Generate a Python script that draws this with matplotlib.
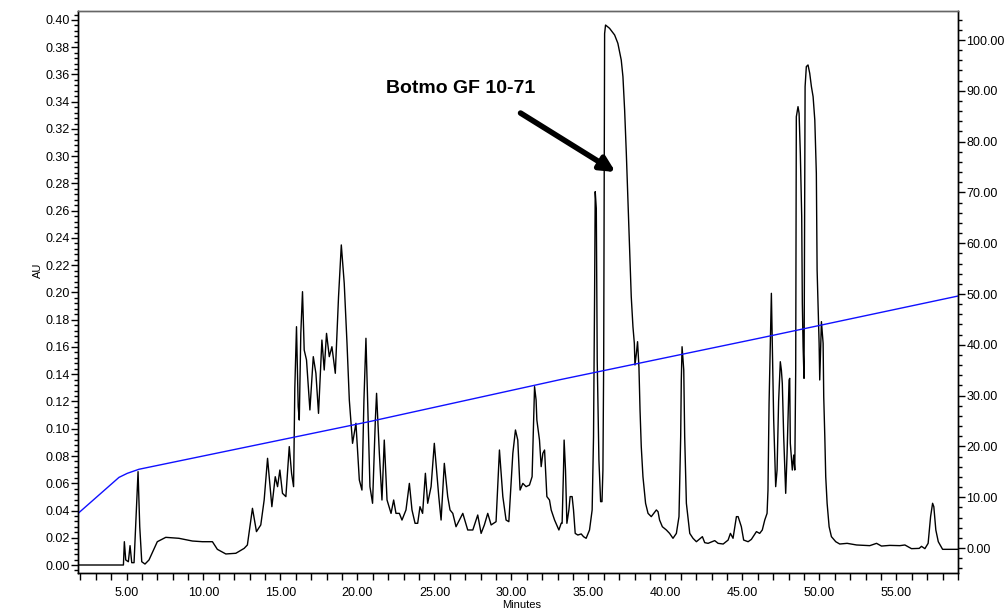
#! /usr/bin/env python3
import matplotlib
matplotlib.use('Agg')
import matplotlib.pyplot as plt
from matplotlib.ticker import MultipleLocator, FormatStrFormatter

plt.rcParams['font.family'] = ['Liberation Sans', 'DejaVu Sans']

# chromatogram trace (minutes, AU)
minutes = [
    1.85, 4.80, 4.86, 4.95, 5.12, 5.23, 5.34, 5.49, 5.60, 5.75, 5.86, 5.99,
    6.20, 6.46, 7.00, 7.55, 8.40, 9.28, 9.93, 10.58, 10.90, 11.45, 12.10,
    12.64, 12.85,
    13.18, 13.44, 13.72, 13.94, 14.16, 14.44, 14.66, 14.81, 14.96, 15.13,
    15.35, 15.57, 15.72, 15.85, 15.93, 16.04, 16.15, 16.22, 16.32, 16.43,
    16.54, 16.69, 16.91, 17.13, 17.30, 17.47, 17.69, 17.84, 17.99, 18.17,
    18.34, 18.56, 18.77, 18.95, 19.14, 19.32, 19.47, 19.68, 19.90, 20.12,
    20.29, 20.42, 20.55, 20.66, 20.81, 20.98, 21.16, 21.24, 21.42, 21.59,
    21.74, 21.92, 22.18, 22.35, 22.50, 22.72, 22.89, 23.15, 23.37, 23.54,
    23.74, 23.91, 24.06, 24.23, 24.41, 24.56, 24.78, 24.99, 25.28, 25.43,
    25.64, 25.86, 26.01, 26.19, 26.40, 26.84, 27.16, 27.49, 27.81, 28.03,
    28.24, 28.46, 28.68, 29.00, 29.22, 29.44, 29.65, 29.83, 30.09, 30.26,
    30.41, 30.56, 30.74, 30.95, 31.17, 31.34, 31.50, 31.60, 31.65, 31.82,
    31.93, 32.04, 32.15, 32.30, 32.47, 32.58, 32.80, 33.08, 33.23,
    33.29, 33.38, 33.42, 33.51, 33.60, 33.73, 33.81, 33.94, 34.03, 34.14,
    34.31, 34.53, 34.68, 34.85, 35.07, 35.24, 35.33, 35.40, 35.44, 35.51,
    35.57, 35.68, 35.79, 35.88, 35.94, 35.99, 36.05, 36.11, 36.37, 36.70,
    36.91, 37.13, 37.24, 37.35, 37.46, 37.57, 37.67, 37.78, 37.89, 37.98,
    38.02, 38.11, 38.19, 38.28, 38.35, 38.43, 38.54, 38.71, 38.87, 39.08,
    39.41, 39.52, 39.62, 39.80, 40.06, 40.27, 40.49, 40.71, 40.88, 40.99,
    41.03, 41.08, 41.19, 41.25, 41.36, 41.58, 41.79, 42.01, 42.40, 42.55,
    42.77, 43.20, 43.42, 43.75, 44.07, 44.22, 44.39, 44.61, 44.72, 44.93,
    45.08, 45.37, 45.58, 45.91, 46.12,
    46.29, 46.45, 46.60, 46.66, 46.73, 46.88, 46.94, 46.97, 47.03, 47.16,
    47.25, 47.35, 47.46, 47.53, 47.59, 47.68, 47.81, 47.90, 48.03, 48.07,
    48.11, 48.24, 48.33, 48.40, 48.46, 48.50, 48.61, 48.68, 48.76, 48.85,
    48.89, 48.94, 49.00, 49.07, 49.15, 49.26, 49.37, 49.48, 49.59, 49.70,
    49.80, 49.85, 49.91, 49.98, 50.02, 50.13, 50.24, 50.28, 50.35, 50.41,
    50.50, 50.63, 50.78, 51.06, 51.32, 51.80, 52.41, 53.27, 53.71, 54.03,
    54.57, 55.22, 55.55, 55.98, 56.48, 56.63, 56.85, 57.06, 57.22, 57.35,
    57.43, 57.56, 57.72, 58.00, 59.00,
]
au = [
    0.0, 0.0, 0.0171, 0.0037, 0.0024, 0.0142, 0.0017, 0.0017, 0.0306, 0.0685,
    0.0281, 0.0024, 0.0007, 0.0037, 0.0171, 0.0203, 0.0196, 0.0176, 0.0171,
    0.0171, 0.0115, 0.0081, 0.0086, 0.0122, 0.0147,
    0.0416, 0.0245, 0.0294, 0.0477, 0.0783, 0.0428, 0.0648, 0.0575, 0.0697,
    0.0526, 0.0502, 0.0869, 0.0673, 0.0575, 0.1297, 0.1749, 0.1162, 0.1064,
    0.1700, 0.2006, 0.1578, 0.1505, 0.1138, 0.1529, 0.1407, 0.1113, 0.1651,
    0.1431, 0.1700, 0.1529, 0.1602, 0.1407, 0.1969, 0.2349, 0.2067, 0.1627,
    0.1211, 0.0893, 0.1040, 0.0624, 0.0550, 0.1211, 0.1664, 0.1211, 0.0575,
    0.0453, 0.1064, 0.1260, 0.0820, 0.0477, 0.0917, 0.0477, 0.0379, 0.0477,
    0.0379, 0.0379, 0.0330, 0.0404, 0.0599, 0.0404, 0.0306, 0.0306, 0.0428,
    0.0379, 0.0673, 0.0453, 0.0575, 0.0893, 0.0502, 0.0330, 0.0746, 0.0502,
    0.0404, 0.0379, 0.0281, 0.0379, 0.0257, 0.0257, 0.0367, 0.0232, 0.0294,
    0.0379, 0.0294, 0.0318, 0.0844, 0.0502, 0.0330, 0.0318, 0.0820, 0.0991,
    0.0917, 0.0550, 0.0599, 0.0575, 0.0587, 0.0648, 0.1309, 0.1211, 0.1064,
    0.0917, 0.0722, 0.0820, 0.0844, 0.0502, 0.0477, 0.0404, 0.0330, 0.0257,
    0.0306,
    0.0306, 0.0697, 0.0917, 0.0697, 0.0306, 0.0404, 0.0502, 0.0502, 0.0404,
    0.0232, 0.0220, 0.0228, 0.0208, 0.0196, 0.0257, 0.0404, 0.0942, 0.2000,
    0.2740, 0.2618, 0.1500, 0.0771, 0.0465, 0.0465, 0.0697, 0.1500, 0.3900,
    0.3963, 0.3939, 0.3890, 0.3829, 0.3706, 0.3584, 0.3339, 0.3021, 0.2654,
    0.2312, 0.1969, 0.1749, 0.1627, 0.1468, 0.1550, 0.1639, 0.1450, 0.1138,
    0.0869, 0.0648, 0.0453, 0.0379, 0.0355, 0.0404, 0.0391, 0.0330, 0.0281,
    0.0257, 0.0232, 0.0196, 0.0232, 0.0355, 0.0942, 0.1358, 0.1602, 0.1431,
    0.0942, 0.0453, 0.0232, 0.0196, 0.0171, 0.0208, 0.0164, 0.0159, 0.0179,
    0.0159, 0.0154, 0.0183, 0.0232, 0.0196, 0.0355, 0.0355, 0.0281, 0.0183,
    0.0171, 0.0188, 0.0245, 0.0232,
    0.0257, 0.0330, 0.0379, 0.0550, 0.1187, 0.1994, 0.1627, 0.1400, 0.1064,
    0.0575, 0.0697, 0.1200, 0.1492, 0.1430, 0.1333, 0.0942, 0.0526, 0.0820,
    0.1358, 0.1370, 0.0893, 0.0697, 0.0807, 0.0697, 0.1430, 0.3290, 0.3364,
    0.3315, 0.3021, 0.2557, 0.1920, 0.1602, 0.1370, 0.3511, 0.3658, 0.3670,
    0.3609, 0.3511, 0.3437, 0.3266, 0.2875, 0.2165, 0.1920, 0.1627, 0.1358,
    0.1786, 0.1627, 0.1235, 0.0942, 0.0648, 0.0453, 0.0281, 0.0208, 0.0171,
    0.0154, 0.0159, 0.0147, 0.0142, 0.0159, 0.0139, 0.0144, 0.0142, 0.0147,
    0.0120, 0.0122, 0.0137, 0.0120, 0.0159, 0.0355, 0.0453, 0.0428, 0.0257,
    0.0171, 0.0115, 0.0115,
]

# gradient (%B), right axis
grad_minutes = [1.85, 4.51, 5.05, 5.81, 20.8, 33.1, 46.1, 59.0]
grad_pct = [6.8, 13.9, 14.7, 15.5, 24.9, 33.1, 41.3, 49.6]

W, H = 1007, 610


def style_axis(ax):
    ax.tick_params(which='both', direction='out', labelsize=9, pad=1)
    ax.tick_params(which='major', length=5, width=1)
    ax.tick_params(which='minor', length=3, width=1)


def main():
    fig = plt.figure(figsize=(W / 100, H / 100), dpi=100)
    ax = fig.add_axes([78 / W, 1 - 573 / H, (958 - 78) / W, (573 - 11) / H])

    ax.plot(minutes, au, color='black', lw=1.0)
    ax.set_xlim(1.85, 59.0)
    ax.set_ylim(-0.00587, 0.4066)

    ax.xaxis.set_major_locator(MultipleLocator(5))
    ax.xaxis.set_minor_locator(MultipleLocator(1))
    ax.xaxis.set_major_formatter(FormatStrFormatter('%.2f'))
    ax.yaxis.set_major_locator(MultipleLocator(0.02))
    ax.yaxis.set_minor_locator(MultipleLocator(0.004))
    ax.yaxis.set_major_formatter(FormatStrFormatter('%.2f'))
    style_axis(ax)
    ax.tick_params(axis='x', which='minor', length=5)
    ax.tick_params(axis='x', which='major', pad=5)

    ax2 = ax.twinx()
    ax2.plot(grad_minutes, grad_pct, color='#1010ff', lw=1.0)
    ax2.set_ylim(-4.92, 105.71)
    ax2.yaxis.set_major_locator(MultipleLocator(10))
    ax2.yaxis.set_minor_locator(MultipleLocator(2))
    ax2.yaxis.set_major_formatter(FormatStrFormatter('%.2f'))
    style_axis(ax2)

    for a in (ax, ax2):
        for s in a.spines.values():
            s.set_linewidth(1)
        a.spines['top'].set_color('#666666')

    ax.annotate('', xy=(36.76, 0.2884), xytext=(30.59, 0.3317),
                arrowprops=dict(arrowstyle='-|>', lw=4, color='black',
                                mutation_scale=22, shrinkA=0, shrinkB=0))
    ax.text(21.87, 0.350, 'Botmo GF 10-71', fontsize=14, fontweight='bold',
            ha='left', va='center')

    fig.text(38 / W, 1 - 270 / H, 'AU', rotation=90, ha='center',
             va='center', fontsize=8)
    fig.text(522 / W, 1 - 600 / H, 'Minutes', ha='center', va='top',
             fontsize=8)

    fig.savefig('out.png', dpi=100)
    plt.close(fig)


if __name__ == '__main__':
    main()
